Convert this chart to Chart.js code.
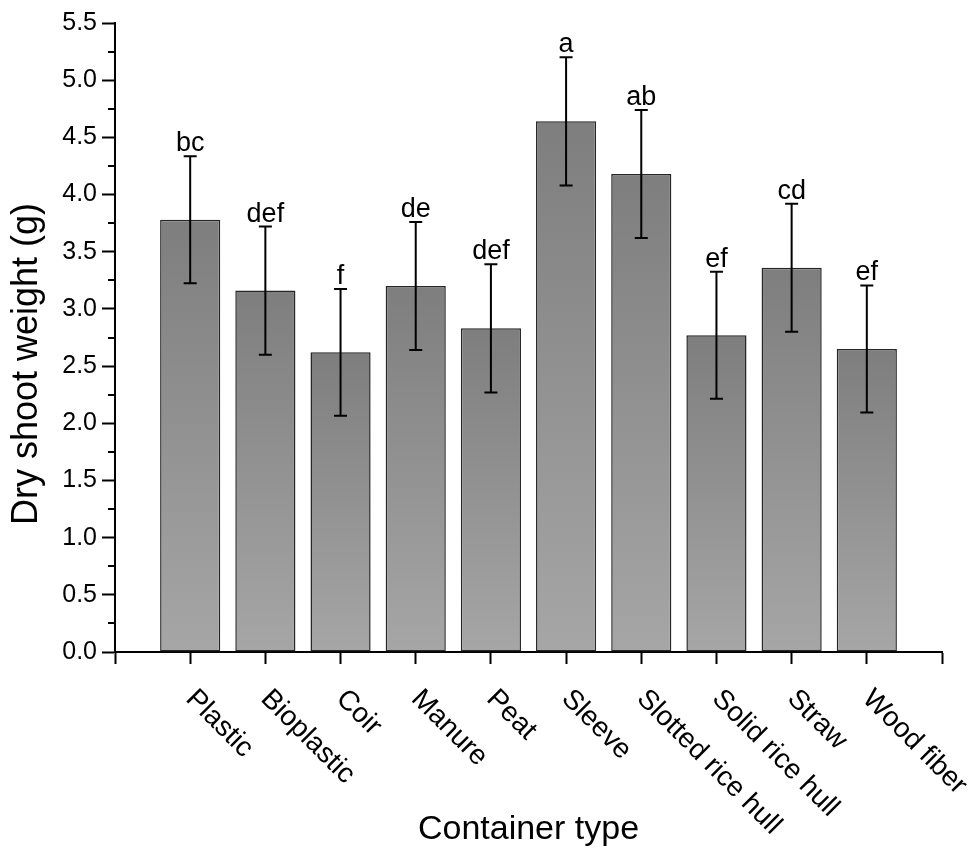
<!DOCTYPE html>
<html>
<head>
<meta charset="utf-8">
<script src="https://cdn.jsdelivr.net/npm/chart.js@4.4.0/dist/chart.umd.min.js"></script>
<style>
  html, body { margin: 0; padding: 0; background: #ffffff; }
  #wrap { width: 977px; height: 849px; }
</style>
</head>
<body>
<div id="wrap"><canvas id="c" width="977" height="849"></canvas></div>
<script>
// Container types along the x axis
const categories = ['Plastic', 'Bioplastic', 'Coir', 'Manure', 'Peat', 'Sleeve',
  'Slotted rice hull', 'Solid rice hull', 'Straw', 'Wood fiber'];
// Mean dry shoot weight (g)
const meanWeight = [3.78, 3.16, 2.62, 3.20, 2.83, 4.64, 4.18, 2.77, 3.36, 2.65];
// Error bar half-length (g)
const errorBar = [0.555, 0.56, 0.555, 0.56, 0.56, 0.56, 0.56, 0.555, 0.56, 0.555];
// Mean separation letters
const groupLetters = ['bc', 'def', 'f', 'de', 'def', 'a', 'ab', 'ef', 'cd', 'ef'];
// Y axis range and tick spacing
const yMin = 0, yMax = 5.5, yStep = 0.5, yMinorStep = 0.25;

const FONT = '"Liberation Sans", Arial, sans-serif';

const barPoints = meanWeight.map((v, i) => ({ x: i + 1, y: v }));

const extrasPlugin = {
  id: 'extras',
  afterDatasetsDraw(chart) {
    const ctx = chart.ctx;
    const ys = chart.scales.y;
    const meta = chart.getDatasetMeta(0);
    ctx.save();
    // error bars and letters
    ctx.strokeStyle = '#000';
    ctx.lineWidth = 2;
    ctx.fillStyle = '#000';
    ctx.font = '27px ' + FONT;
    ctx.textAlign = 'center';
    ctx.textBaseline = 'alphabetic';
    meta.data.forEach((bar, i) => {
      const x = bar.x;
      const yTop = ys.getPixelForValue(meanWeight[i] + errorBar[i]);
      const yBot = ys.getPixelForValue(meanWeight[i] - errorBar[i]);
      ctx.beginPath();
      ctx.moveTo(x, yTop); ctx.lineTo(x, yBot);
      ctx.moveTo(x - 6.5, yTop); ctx.lineTo(x + 6.5, yTop);
      ctx.moveTo(x - 6.5, yBot); ctx.lineTo(x + 6.5, yBot);
      ctx.stroke();
      ctx.fillText(groupLetters[i], x, yTop - 5);
    });
    ctx.restore();
  },
  afterDraw(chart) {
    const ctx = chart.ctx;
    const xs = chart.scales.x, ys = chart.scales.y;
    const area = chart.chartArea;
    ctx.save();
    // minor ticks on the y axis
    ctx.strokeStyle = '#000';
    ctx.lineWidth = 2;
    ctx.beginPath();
    for (let v = yMin + yMinorStep; v < yMax; v += yStep) {
      const y = Math.round(ys.getPixelForValue(v));
      ctx.moveTo(area.left - 7, y); ctx.lineTo(area.left, y);
    }
    ctx.stroke();

    // rotated category labels
    ctx.fillStyle = '#000';
    ctx.font = '28px ' + FONT;
    ctx.textAlign = 'left';
    ctx.textBaseline = 'alphabetic';
    categories.forEach((name, i) => {
      const x = xs.getPixelForValue(i + 1);
      ctx.save();
      ctx.translate(x - 5.5, area.bottom + 48);
      ctx.rotate(Math.PI / 4);
      ctx.fillText(name, 0, 0);
      ctx.restore();
    });

    // axis titles
    ctx.font = '34px ' + FONT;
    ctx.textAlign = 'center';
    ctx.fillText('Container type', (area.left + area.right) / 2, 839);
    ctx.save();
    ctx.translate(37, 364);
    ctx.rotate(-Math.PI / 2);
    ctx.font = '36px ' + FONT;
    ctx.fillText('Dry shoot weight (g)', 0, 0);
    ctx.restore();
    ctx.restore();
  }
};

new Chart(document.getElementById('c'), {
  type: 'bar',
  data: {
    datasets: [{
      data: barPoints,
      backgroundColor: (c) => {
        const chart = c.chart;
        if (!chart.chartArea || c.type !== 'data') return '#909090';
        const ys = chart.scales.y;
        const top = ys.getPixelForValue(c.raw.y);
        const base = ys.getPixelForValue(0);
        const g = chart.ctx.createLinearGradient(0, top, 0, base);
        g.addColorStop(0, '#7e7e7e');
        g.addColorStop(1, '#a6a6a6');
        return g;
      },
      borderColor: '#262626',
      borderWidth: 1.5,
      borderSkipped: false,
      barPercentage: 0.8,
      categoryPercentage: 1.0
    }]
  },
  options: {
    responsive: false,
    animation: false,
    devicePixelRatio: 1,
    layout: { padding: { top: 23, right: 35, bottom: 0, left: 0 } },
    plugins: { legend: { display: false }, tooltip: { enabled: false } },
    scales: {
      x: {
        type: 'linear',
        min: 0, max: 11,
        offset: false,
        ticks: { stepSize: 1, display: false },
        grid: { offset: false, drawOnChartArea: false, tickLength: 12, tickWidth: 2, tickColor: '#000' },
        border: { color: '#000', width: 2 },
        afterFit: (s) => { s.height = 849 - 23 - 629; }
      },
      y: {
        min: yMin, max: yMax,
        ticks: {
          stepSize: yStep,
          color: '#000',
          padding: 5,
          font: { family: FONT, size: 25 },
          callback: (v) => Number(v).toFixed(1)
        },
        grid: { drawOnChartArea: false, tickLength: 13, tickWidth: 2, tickColor: '#000' },
        border: { color: '#000', width: 2 },
        afterFit: (s) => { s.width = 115; }
      }
    }
  },
  plugins: [extrasPlugin]
});
</script>
</body>
</html>
